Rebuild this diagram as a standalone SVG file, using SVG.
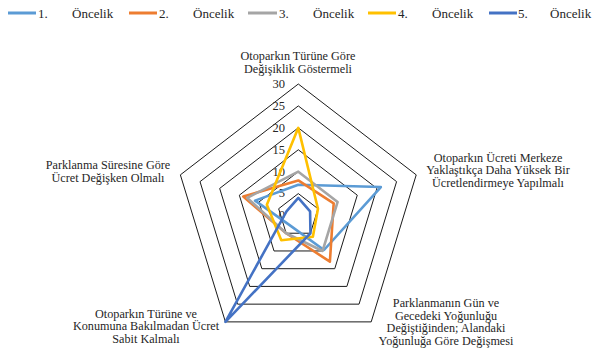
<svg xmlns="http://www.w3.org/2000/svg" width="593" height="362" viewBox="0 0 593 362">
<style>
text{font-family:"Liberation Serif","Times New Roman","DejaVu Serif",serif;fill:#262626}
.lab{font-size:12.2px;text-anchor:middle}
.leg{font-size:13px}
.tick{font-size:12.5px;text-anchor:end;dominant-baseline:middle}
.ring{fill:none;stroke:#1a1a1a;stroke-width:1}
.ser{fill:none;stroke-width:2.6;stroke-linejoin:round}
.s1{stroke:#5B9BD5}.s2{stroke:#ED7D31}.s3{stroke:#A5A5A5}.s4{stroke:#FFC000}.s5{stroke:#4472C4}
.ll{stroke-width:3}
</style>
<rect width="593" height="362" fill="#fff"/>
<g id="legend">
<line class="ll s1" x1="8" y1="13" x2="36" y2="13"/><text class="leg" x="38" y="17.5">1.</text><text class="leg" x="72" y="17.5">Öncelik</text>
<line class="ll s2" x1="129" y1="13" x2="157" y2="13"/><text class="leg" x="159" y="17.5">2.</text><text class="leg" x="193" y="17.5">Öncelik</text>
<line class="ll s3" x1="248" y1="13" x2="277" y2="13"/><text class="leg" x="279" y="17.5">3.</text><text class="leg" x="313" y="17.5">Öncelik</text>
<line class="ll s4" x1="368" y1="13" x2="396" y2="13"/><text class="leg" x="398" y="17.5">4.</text><text class="leg" x="432" y="17.5">Öncelik</text>
<line class="ll s5" x1="489" y1="13" x2="517" y2="13"/><text class="leg" x="518" y="17.5">5.</text><text class="leg" x="550" y="17.5">Öncelik</text>
</g>
<g id="grid">
<polygon class="ring" points="298.3,84 416.23,174.86 371.19,321.88 225.41,321.88 180.37,174.86"/>
<polygon class="ring" points="298.3,105.92 396.58,181.63 359.04,304.15 237.56,304.15 200.02,181.63"/>
<polygon class="ring" points="298.3,127.83 376.92,188.41 346.89,286.42 249.71,286.42 219.68,188.41"/>
<polygon class="ring" points="298.3,149.75 357.27,195.18 334.75,268.69 261.86,268.69 239.34,195.18"/>
<polygon class="ring" points="298.3,171.67 337.61,201.95 322.6,250.96 274,250.96 258.99,201.95"/>
<polygon class="ring" points="298.3,193.58 317.96,208.73 310.45,233.23 286.15,233.23 278.65,208.73"/>
</g>
<g id="ticks">
<text class="tick" x="285" y="85">30</text>
<text class="tick" x="285" y="107">25</text>
<text class="tick" x="285" y="129">20</text>
<text class="tick" x="285" y="151">15</text>
<text class="tick" x="285" y="173">10</text>
<text class="tick" x="285" y="194.5">5</text>
<text class="tick" x="285" y="216.5">0</text>
</g>
<g id="series">
<polygon class="ser s1" points="298.3,184.82 380.85,187.05 324,250 291.01,226.14 255.06,200.6"/>
<polygon class="ser s2" points="298.3,180.44 333.68,203.31 329.89,261.6 286.15,233.23 243.27,196.53"/>
<polygon class="ser s3" points="298.3,171.67 337.61,201.95 322.6,250.96 286.15,233.23 247.2,197.89"/>
<polygon class="ser s4" points="298.3,127.83 317.96,208.73 312.88,236.78 281.29,240.32 266.85,204.66"/>
<polygon class="ser s5" points="298.3,197.97 310.09,211.44 310.45,233.23 225.41,321.88 286.51,211.44"/>
</g>
<g id="label-top">
<text class="lab" x="298" y="60">Otoparkın Türüne Göre</text>
<text class="lab" x="298" y="73">Değişiklik Göstermeli</text>
</g>
<g id="label-right">
<text class="lab" x="498" y="161.5">Otoparkın Ücreti Merkeze</text>
<text class="lab" x="498" y="174">Yaklaştıkça Daha Yüksek Bir</text>
<text class="lab" x="498" y="186.5">Ücretlendirmeye Yapılmalı</text>
</g>
<g id="label-bottom-right">
<text class="lab" x="446" y="307">Parklanmanın Gün ve</text>
<text class="lab" x="446" y="319.5">Gecedeki Yoğunluğu</text>
<text class="lab" x="446" y="332">Değiştiğinden; Alandaki</text>
<text class="lab" x="446" y="344.5">Yoğunluğa Göre Değişmesi</text>
</g>
<g id="label-bottom-left">
<text class="lab" x="146" y="317.5">Otoparkın Türüne ve</text>
<text class="lab" x="146" y="330">Konumuna Bakılmadan Ücret</text>
<text class="lab" x="146" y="342.5">Sabit Kalmalı</text>
</g>
<g id="label-left">
<text class="lab" x="108" y="169">Parklanma Süresine Göre</text>
<text class="lab" x="108" y="181.5">Ücret Değişken Olmalı</text>
</g>
</svg>
